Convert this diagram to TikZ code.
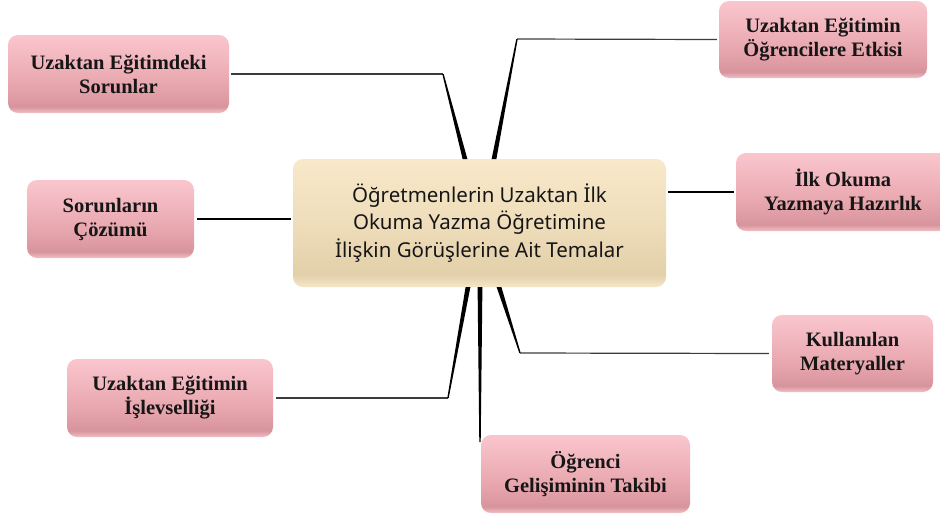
\documentclass[tikz,border=0pt]{standalone}
\usepackage{fontspec}
\setmainfont{Liberation Serif}
\newfontfamily\censans{Noto Sans}
\usetikzlibrary{calc}
\definecolor{pinktop}{RGB}{250,198,206}
\definecolor{pinkmid}{RGB}{233,168,176}
\definecolor{pinkdark}{RGB}{216,148,156}
\definecolor{pinkbot}{RGB}{242,192,198}
\definecolor{creamtop}{RGB}{248,233,202}
\definecolor{creammid}{RGB}{238,220,185}
\definecolor{creamdark}{RGB}{226,208,170}
\definecolor{creambot}{RGB}{244,230,200}
\definecolor{textdark}{RGB}{22,22,22}
\definecolor{linegray}{RGB}{60,60,60}
\pgfdeclareverticalshading{pinkshade}{100bp}{color(0bp)=(pinkbot); color(25bp)=(pinkbot); color(29bp)=(pinkdark); color(45bp)=(pinkmid); color(75bp)=(pinktop); color(100bp)=(pinktop)}
\pgfdeclareverticalshading{creamshade}{100bp}{color(0bp)=(creambot); color(25bp)=(creambot); color(30bp)=(creamdark); color(48bp)=(creammid); color(75bp)=(creamtop); color(100bp)=(creamtop)}
\newcommand\tapercon[2]{\fill[black] ($(#1)+(-0.7,0)$) -- ($(#1)+(0.7,0)$) -- ($(#2)+(2.4,0)$) -- ($(#2)+(-2.4,0)$) -- cycle;}
\begin{document}
\begin{tikzpicture}[x=1pt,y=-1pt,
  theme/.style={rounded corners=10pt, shade, shading=pinkshade, align=center,
    font=\bfseries\fontsize{20.5}{24}\selectfont, text=textdark, inner sep=0pt},
  mainbox/.style={rounded corners=10pt, shade, shading=creamshade, align=center,
    font=\censans\fontsize{20.5}{27.5}\selectfont, text=textdark, inner sep=0pt},
  thinline/.style={draw=linegray, line width=1.2pt},
  darkline/.style={draw=black, line width=1.3pt}]
\clip (0,0) rectangle (940,515);
\fill[white] (0,0) rectangle (940,515);
\node[mainbox, minimum width=373pt, minimum height=128pt] (main) at (479.5,223)
  {Öğretmenlerin Uzaktan İlk\\Okuma Yazma Öğretimine\\İlişkin Görüşlerine Ait Temalar};
\node[theme, minimum width=221pt, minimum height=78pt] (b1) at (118.5,74) {Uzaktan Eğitimdeki\\Sorunlar};
\node[theme, minimum width=208pt, minimum height=77pt] (b2) at (823,39.5) {Uzaktan Eğitimin\\Öğrencilere Etkisi};
\node[theme, minimum width=214pt, minimum height=78pt] (b3) at (843,192) {İlk Okuma\\Yazmaya Hazırlık};
\node[theme, minimum width=167pt, minimum height=78pt] (b4) at (110.5,219) {Sorunların\\Çözümü};
\node[theme, minimum width=206pt, minimum height=78pt] (b5) at (170,398) {Uzaktan Eğitimin\\İşlevselliği};
\node[theme, minimum width=161pt, minimum height=77pt] (b6) at (852.5,353.5) {Kullanılan\\Materyaller};
\node[theme, minimum width=209pt, minimum height=78pt] (b7) at (585.5,474) {Öğrenci\\Gelişiminin Takibi};
% bend points and roots on the central box
\coordinate (k1) at (443,74);  \coordinate (t1) at (465,159);
\coordinate (k2) at (517,39);  \coordinate (t2) at (494,159);
\coordinate (k5) at (448,398); \coordinate (t5) at (468,287);
\coordinate (k6) at (520,353); \coordinate (t6) at (499,287);
\coordinate (t7) at (480,287); \coordinate (e7) at (480,442);
% connectors
\draw[thinline] ([xshift=2pt]b1.east) -- (k1);
\tapercon{k1}{t1}
\draw[thinline] ([xshift=-2pt]b2.west) -- (k2);
\tapercon{k2}{t2}
\draw[darkline] ([xshift=-2pt]b3.west) -- ([xshift=2pt]b3.west -| main.east);
\draw[darkline] ([xshift=3pt]b4.east) -- ([xshift=-2pt]b4.east -| main.west);
\draw[thinline] ([xshift=3pt]b5.east) -- (k5);
\tapercon{k5}{t5}
\draw[thinline] ([xshift=-3pt]b6.west) -- (k6);
\tapercon{k6}{t6}
\tapercon{e7}{t7}
\end{tikzpicture}
\end{document}
